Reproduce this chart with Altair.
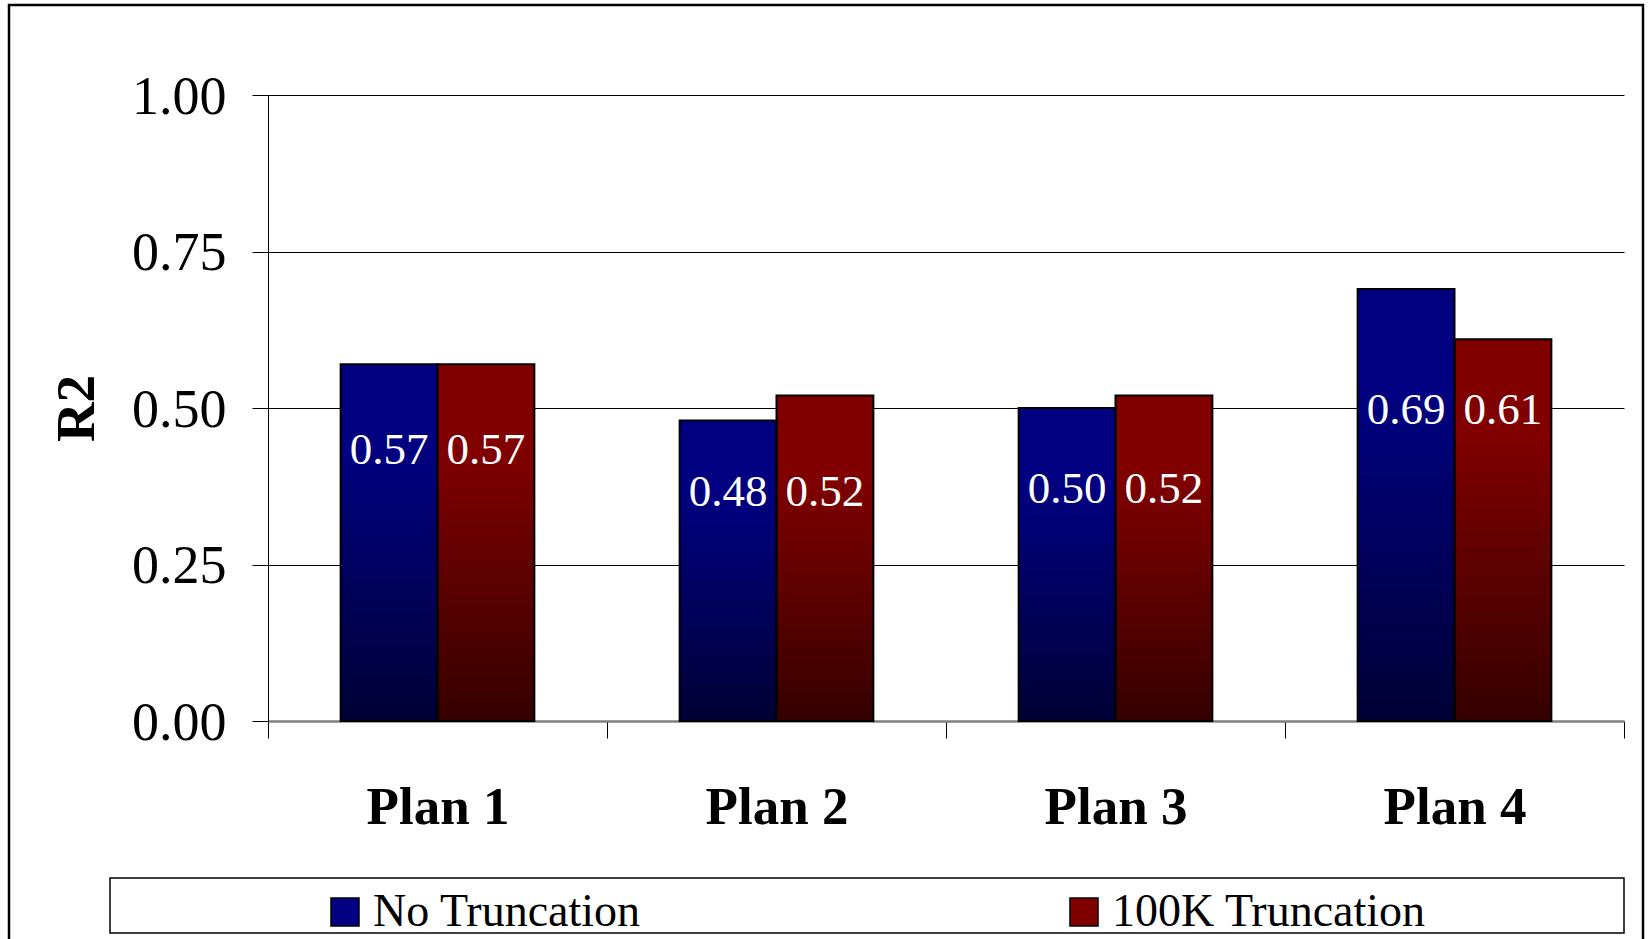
import altair as alt
import pandas as pd

# ---- data -------------------------------------------------------------
plans = ["Plan 1", "Plan 2", "Plan 3", "Plan 4"]
series = ["No Truncation", "100K Truncation"]
no_truncation = [0.57, 0.48, 0.50, 0.69]
truncation_100k = [0.57, 0.52, 0.52, 0.61]
# height (in R2 units) where each plan's value labels are centred
label_height = [0.435, 0.367, 0.372, 0.499]
y_ticks = [0.0, 0.25, 0.5, 0.75, 1.0]
series_colors = ["#000080", "#800000"]

rows = []
for i, plan in enumerate(plans):
    for name, vals in zip(series, [no_truncation, truncation_100k]):
        rows.append({"plan": plan, "series": name, "r2": vals[i],
                     "label_y": label_height[i]})
df = pd.DataFrame(rows)

# ---- layout -----------------------------------------------------------
W, H = 1356, 626
SERIF = "Liberation Serif"

x_enc = alt.X(
    "plan:N", sort=plans,
    scale=alt.Scale(paddingInner=0, paddingOuter=0),
    axis=alt.Axis(
        title=None, labelAngle=0, labelFont=SERIF, labelFontSize=53,
        labelFontWeight="bold", labelColor="black",
        labelBaseline="alphabetic", labelPadding=85,
        tickBand="extent", tickSize=17, tickColor="black", tickWidth=1,
        domainColor="#808080", domainWidth=2.5, grid=False,
    ),
)
xoff_enc = alt.XOffset("series:N", sort=series,
                       scale=alt.Scale(paddingInner=0, paddingOuter=0.75))
y_axis = alt.Axis(
    title="R2", values=y_ticks, format=".2f",
    labelFont=SERIF, labelFontSize=54, labelColor="black",
    labelBaseline="alphabetic", labelOffset=18, labelPadding=26,
    labelFlush=False, labelOverlap=False,
    tickSize=16, tickColor="black", tickWidth=1,
    domainColor="black", domainWidth=1,
    grid=True, gridColor="black", gridWidth=1,
    titleFont=SERIF, titleFontSize=55, titleFontWeight="bold",
    titleColor="black", titleX=-175, titleY=H / 2, titleAngle=270,
    titleAlign="center", titleBaseline="alphabetic",
)
y_scale = alt.Scale(domain=[0, 1], nice=False, zero=True)

# bars in solid series colours (these also feed the legend)
bars = alt.Chart(df).mark_bar().encode(
    x=x_enc,
    xOffset=xoff_enc,
    y=alt.Y("r2:Q", scale=y_scale, axis=y_axis),
    color=alt.Color(
        "series:N", sort=series,
        scale=alt.Scale(domain=series, range=series_colors),
        legend=alt.Legend(
            orient="none", legendX=54, legendY=794, direction="horizontal",
            title=None, padding=0, columnPadding=420, labelOffset=5,
            symbolType="square", symbolSize=784, symbolStrokeColor="black",
            symbolStrokeWidth=1.5, symbolOpacity=1,
            labelFont=SERIF, labelFontSize=46, labelColor="black",
            labelLimit=600,
        ),
    ),
)

# darkening gradient toward the base of every bar, plus the black outline
shade = alt.Chart(df).mark_bar(
    fill={
        "gradient": "linear", "x1": 0, "y1": 0, "x2": 0, "y2": 1,
        "stops": [
            {"offset": 0, "color": "rgba(0,0,0,0)"},
            {"offset": 0.25, "color": "rgba(0,0,0,0)"},
            {"offset": 1, "color": "rgba(0,0,0,0.59)"},
        ],
    },
    stroke="black", strokeWidth=2,
).encode(
    x=x_enc,
    xOffset=xoff_enc,
    y=alt.Y("r2:Q", scale=y_scale, axis=y_axis),
)

labels = alt.Chart(df).mark_text(
    font=SERIF, fontSize=45, color="white", baseline="alphabetic", dy=15,
).encode(
    x=x_enc,
    xOffset=xoff_enc,
    y=alt.Y("label_y:Q", scale=y_scale, axis=y_axis),
    text=alt.Text("r2:Q", format=".2f"),
)

# outer chart border and the box around the legend (outline only)
frame_data = alt.Data(values=[{"frame": "border"}])
outer_frame = alt.Chart(frame_data).mark_rect(
    fill="transparent", stroke="black", strokeWidth=2.5,
).encode(
    x=alt.value(-259), x2=alt.value(1375),
    y=alt.value(-90), y2=alt.value(870),
)
legend_frame = alt.Chart(frame_data).mark_rect(
    fill="transparent", stroke="black", strokeWidth=1.5,
).encode(
    x=alt.value(-158), x2=alt.value(W),
    y=alt.value(783), y2=alt.value(838),
)

chart = alt.layer(outer_frame, legend_frame, bars, shade, labels).properties(
    width=W, height=H,
    padding={"left": 268, "top": 95, "right": 24, "bottom": 218},
    autosize=alt.AutoSizeParams(type="none"),
    background="white",
).configure_view(strokeWidth=0)

chart.save("out.html", embed_options={"renderer": "svg", "actions": False})
